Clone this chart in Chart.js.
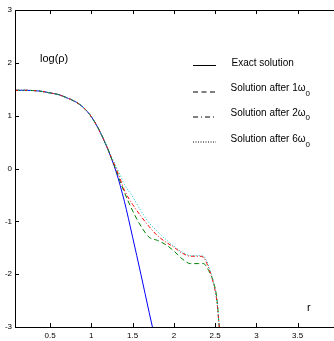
<!DOCTYPE html>
<html>
<head>
<meta charset="utf-8">
<script src="https://cdn.jsdelivr.net/npm/chart.js@4/dist/chart.umd.min.js"></script>
<style>
html,body{margin:0;padding:0;background:#fff;overflow:hidden;}
#wrap{width:334px;height:341px;position:relative;}
</style>
</head>
<body>
<div id="wrap"><canvas id="c" width="334" height="341"></canvas></div>
<script>
// ---- data ----
const rExact   = [0.075,0.2,0.3,0.4,0.5,0.6,0.7,0.8,0.9,1.0,1.1,1.2,1.3,1.4,1.5,1.6,1.7,1.74];
const logExact = [1.48,1.48,1.475,1.46,1.43,1.40,1.34,1.27,1.16,0.98,0.71,0.36,-0.06,-0.62,-1.30,-2.00,-2.72,-3.0];

const rNum   = [0.075,0.2,0.3,0.4,0.5,0.6,0.7,0.8,0.9,1.0,1.1,1.2,1.25,1.3,1.35,1.4,1.5,1.6,1.7,1.8,1.9,2.0,2.1,2.2,2.3,2.36,2.4,2.44,2.48,2.52,2.55];
const log1w  = [1.48,1.48,1.475,1.46,1.43,1.40,1.34,1.27,1.16,0.98,0.71,0.37,0.17,-0.03,-0.25,-0.45,-0.80,-1.09,-1.30,-1.36,-1.44,-1.56,-1.71,-1.80,-1.80,-1.80,-1.87,-1.99,-2.15,-2.45,-3.0];
const log2w  = [1.48,1.48,1.475,1.46,1.43,1.40,1.34,1.27,1.16,0.98,0.71,0.37,0.18,0.0,-0.20,-0.41,-0.68,-0.90,-1.10,-1.27,-1.39,-1.49,-1.60,-1.66,-1.66,-1.68,-1.80,-1.96,-2.18,-2.50,-3.0];
const log6w  = [1.48,1.48,1.475,1.46,1.43,1.40,1.34,1.27,1.16,0.98,0.71,0.38,0.20,0.04,-0.13,-0.30,-0.53,-0.80,-1.03,-1.19,-1.34,-1.47,-1.58,-1.65,-1.65,-1.66,-1.76,-1.93,-2.16,-2.50,-3.0];

const xTicks = [0.5,1,1.5,2,2.5,3,3.5];
const yTicks = [-3,-2,-1,0,1,2,3];
const legendLabels = ["Exact solution","Solution after 1\u03c9","Solution after 2\u03c9","Solution after 6\u03c9"];
const legendSubs   = ["","0","0","0"];

const pts = (xs, ys) => xs.map((x,i)=>({x:x,y:ys[i]}));

const FONT = '"Liberation Sans", Arial, sans-serif';
const styles = [
  {color:'rgb(0,0,255)', dash:[]},
  {color:'rgb(0,128,0)', dash:[5,3]},
  {color:'rgb(255,0,0)', dash:[4,2,1,2]},
  {color:'rgb(0,191,191)', dash:[1,2]}
];

const overlay = {
  id:'overlay',
  afterDraw(chart){
    const ctx = chart.ctx, a = chart.chartArea;
    const xs = chart.scales.x, ys = chart.scales.y;
    ctx.save();
    ctx.strokeStyle='#000'; ctx.lineWidth=1; ctx.setLineDash([]);
    ctx.beginPath();
    // axes box (left, bottom, top)
    ctx.moveTo(a.left+0.5, a.top+0.5); ctx.lineTo(a.left+0.5, a.bottom+0.5);
    ctx.lineTo(a.right, a.bottom+0.5);
    ctx.moveTo(a.left+0.5, a.top+0.5); ctx.lineTo(a.right, a.top+0.5);
    // inward ticks
    xTicks.forEach(v=>{
      const p = Math.round(xs.getPixelForValue(v))+0.5;
      ctx.moveTo(p, a.bottom); ctx.lineTo(p, a.bottom-4);
      ctx.moveTo(p, a.top); ctx.lineTo(p, a.top+4);
    });
    yTicks.forEach(v=>{
      const p = Math.round(ys.getPixelForValue(v))+0.5;
      ctx.moveTo(a.left, p); ctx.lineTo(a.left+4, p);
    });
    ctx.stroke();

    // texts
    ctx.fillStyle='#000';
    ctx.textBaseline='middle';
    ctx.textAlign='left';
    ctx.font='11px '+FONT;
    ctx.fillText('log(\u03c1)', 40, 58.5);
    ctx.fillText('r', 307, 308);

    // legend
    const lineY = [65, 91.5, 116.5, 141.5];
    const textY = [63.5, 88.5, 113, 139.5];
    for(let i=0;i<4;i++){
      ctx.beginPath();
      ctx.setLineDash(i===0?[]:(i===1?[5,3.5]:(i===2?[5,3,1,3]:[1,1.5])));
      ctx.strokeStyle='#000';
      ctx.moveTo(193, lineY[i]+0.5); ctx.lineTo(216, lineY[i]+0.5);
      ctx.stroke();
      ctx.setLineDash([]);
      ctx.font='10px '+FONT;
      const tx = i===0?231.5:230.5;
      ctx.fillText(legendLabels[i], tx, textY[i]);
      if(legendSubs[i]){
        const w = ctx.measureText(legendLabels[i]).width;
        ctx.font='8px '+FONT;
        ctx.fillText(legendSubs[i], tx+w, textY[i]+5);
      }
    }
    ctx.restore();
  }
};

const mk = (label, data, st, order) => ({
  label, data,
  borderColor: st.color, backgroundColor: st.color,
  borderDash: st.dash, borderWidth: 1,
  pointRadius: 0, fill:false,
  cubicInterpolationMode:'monotone',
  order
});

new Chart(document.getElementById('c'), {
  type:'line',
  data:{
    datasets:[
      mk(legendLabels[0], pts(rExact, logExact), styles[0], 4),
      mk(legendLabels[1]+'0', pts(rNum, log1w), styles[1], 3),
      mk(legendLabels[2]+'0', pts(rNum, log2w), styles[2], 2),
      mk(legendLabels[3]+'0', pts(rNum, log6w), styles[3], 1)
    ]
  },
  options:{
    responsive:false, animation:false,
    devicePixelRatio:1,
    layout:{padding:{top:10,left:0,right:0,bottom:0}},
    plugins:{legend:{display:false}, tooltip:{enabled:false}},
    scales:{
      x:{
        type:'linear', min:0.075, max:3.94,
        border:{display:false},
        grid:{display:false, drawTicks:false},
        afterBuildTicks(s){ s.ticks = xTicks.map(v=>({value:v})); },
        afterFit(s){ s.height = 14; },
        ticks:{ padding:4, color:'#000', font:{family:FONT, size:8}, maxRotation:0, autoSkip:false,
          callback:(v)=>String(v) }
      },
      y:{
        type:'linear', min:-3, max:3,
        border:{display:false},
        grid:{display:false, drawTicks:false},
        afterBuildTicks(s){ s.ticks = yTicks.map(v=>({value:v})); },
        afterFit(s){ s.width = 15; },
        ticks:{ padding:3, color:'#000', font:{family:FONT, size:8},
          callback:(v)=>String(v) }
      }
    }
  },
  plugins:[overlay]
});
</script>
</body>
</html>
